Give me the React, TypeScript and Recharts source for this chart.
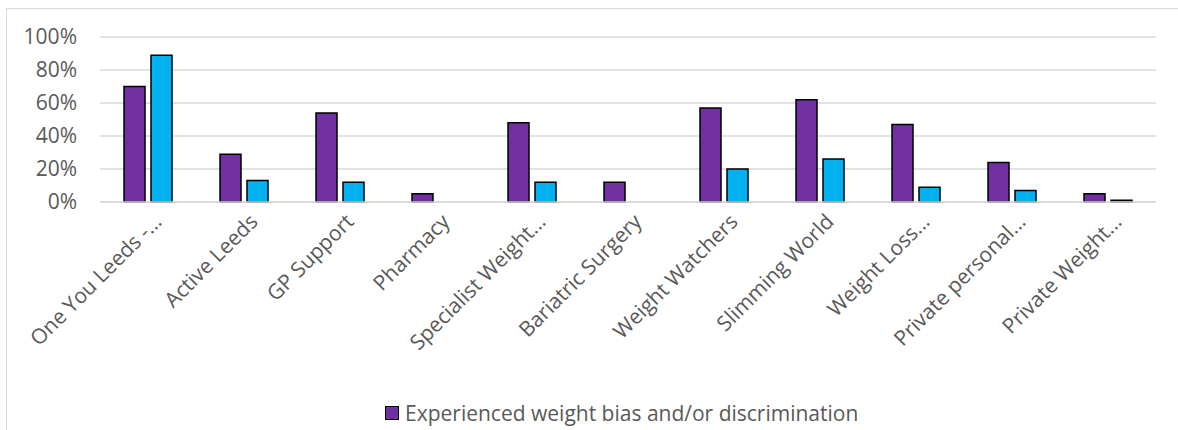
import { BarChart, Bar, XAxis, YAxis, CartesianGrid, Legend } from 'recharts'

const categories = [
  'One You Leeds -...', 'Active Leeds', 'GP Support', 'Pharmacy', 'Specialist Weight...',
  'Bariatric Surgery', 'Weight Watchers', 'Slimming World', 'Weight Loss...',
  'Private personal...', 'Private Weight...',
]
const experienced = [0.70, 0.29, 0.54, 0.05, 0.48, 0.12, 0.57, 0.62, 0.47, 0.24, 0.05]
const other = [0.89, 0.13, 0.12, 0, 0.12, 0, 0.20, 0.26, 0.09, 0.07, 0.01]
const yTicks = [0, 0.2, 0.4, 0.6, 0.8, 1]

const LEGEND_LABEL = 'Experienced weight bias and/or discrimination'
const PURPLE = '#7030A0'
const BLUE = '#00B0F0'
const TEXT = '#595959'
const GRID = '#d9d9d9'
const FONT = '"Open Sans", sans-serif'
const FS = 21

const data = categories.map((name, i) => ({ name, experienced: experienced[i], other: other[i] }))

interface TickProps { x?: number; y?: number; payload?: { value: string } }

function SlantTick({ x = 0, y = 0, payload }: TickProps) {
  return (
    <g transform={`translate(${x + 15},${y + 13})`}>
      <text textAnchor="end" transform="rotate(-45)" fill={TEXT} fontSize={FS} fontFamily={FONT}>
        {payload?.value}
      </text>
    </g>
  )
}

function LegendBox() {
  return (
    <div style={{ height: 34, display: 'flex', alignItems: 'center', paddingLeft: 378, fontFamily: FONT, fontSize: FS, color: TEXT }}>
      <span style={{ width: 12, height: 12, background: PURPLE, border: '1px solid #000', marginRight: 6, display: 'inline-block' }} />
      <span>{LEGEND_LABEL}</span>
    </div>
  )
}

export default function App() {
  return (
    <div style={{
      position: 'absolute', left: 6, top: 8, width: 1172, height: 422,
      borderLeft: `1px solid ${GRID}`, borderTop: `1px solid ${GRID}`, boxSizing: 'border-box',
      background: '#fff',
    }}>
      <BarChart width={1171} height={421} data={data} barSize={21} barGap={6}
        margin={{ top: 28, right: 22, left: 0, bottom: 0 }}>
        <CartesianGrid vertical={false} stroke={GRID} strokeWidth={1.5} />
        <XAxis dataKey="name" interval={0} height={194} tick={<SlantTick />}
          axisLine={{ stroke: GRID, strokeWidth: 1.5 }} tickLine={false} />
        <YAxis domain={[0, 1]} ticks={yTicks} width={93} axisLine={false} tickLine={false}
          tickMargin={17} tickFormatter={(v: number) => `${Math.round(v * 100)}%`}
          tick={{ fill: TEXT, fontSize: FS, fontFamily: FONT }} />
        <Legend verticalAlign="bottom" height={34} content={<LegendBox />} />
        <Bar dataKey="experienced" name={LEGEND_LABEL} fill={PURPLE} stroke="#000" strokeWidth={1.5} isAnimationActive={false} />
        <Bar dataKey="other" name="Other" fill={BLUE} stroke="#000" strokeWidth={1.5} isAnimationActive={false} />
      </BarChart>
    </div>
  )
}
